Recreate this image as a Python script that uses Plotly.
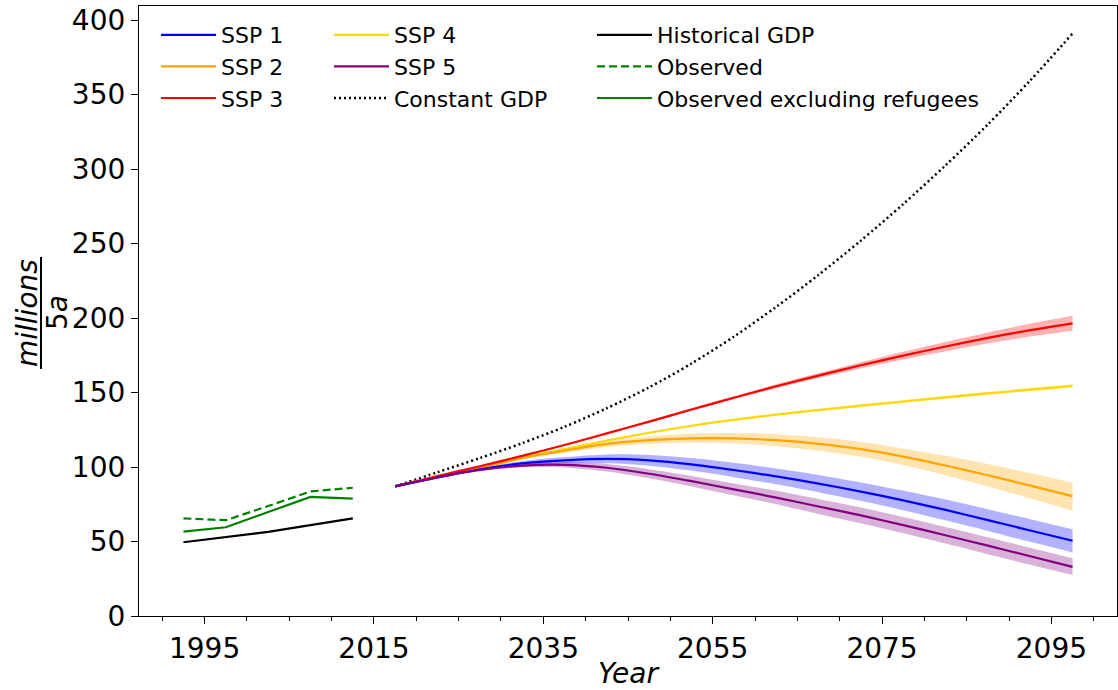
import plotly.graph_objects as go

# ---------------- data ----------------
hist_years = [1992.5, 1997.5, 2002.5, 2007.5, 2012.5]
historical_gdp = [49.5, 53.0, 56.5, 61.0, 65.5]
observed = [65.5, 64.3, 73.8, 83.6, 86.1]
observed_excl_refugees = [56.7, 59.6, 69.8, 79.9, 78.8]

proj_years = [2017.5, 2022.5, 2027.5, 2032.5, 2037.5, 2042.5, 2047.5, 2052.5, 2057.5,
              2062.5, 2067.5, 2072.5, 2077.5, 2082.5, 2087.5, 2092.5, 2097.5]

constant_gdp = [87, 96.5, 106, 116, 127, 139.5, 153.5, 169.5, 187.5,
                207.5, 229, 252, 276.5, 302.5, 330, 359.5, 391]

ssp1 = [87, 93, 98.5, 102.5, 104.5, 105.5, 104.5, 101.8, 98,
        93.7, 88.9, 83.5, 77.6, 71.2, 64.4, 57.4, 50.5]
ssp1_lo = [87, 92.7, 97.7, 101.0, 102.3, 102.5, 100.9, 97.6, 93.2,
           88.4, 83.1, 77.3, 71.0, 64.2, 57.1, 49.8, 42.7]
ssp1_hi = [87, 93.3, 99.3, 104.0, 106.7, 108.5, 108.1, 106.0, 102.8,
           99.0, 94.7, 89.7, 84.2, 78.2, 71.7, 65.0, 58.3]

ssp2 = [87, 93.5, 99.5, 106, 111, 115.5, 118, 119.3, 119.3,
        118, 115.5, 112, 107, 101, 94.5, 87.5, 80.5]
ssp2_lo = [87, 93.2, 98.9, 105.0, 109.5, 113.5, 115.5, 116.3, 115.8,
           114.0, 111.0, 107.0, 101.3, 94.5, 87.0, 79.0, 70.6]
ssp2_hi = [87, 93.8, 100.1, 107.0, 112.5, 117.5, 120.5, 122.3, 122.8,
           122.0, 120.0, 117.0, 112.5, 107.5, 102.0, 96.0, 89.4]

ssp3 = [87, 94, 100.5, 107.5, 114.8, 122.6, 130.5, 138.6, 146.5,
        154.2, 161.4, 168.3, 174.8, 180.9, 186.7, 191.9, 196.5]
ssp3_lo = [87, 94, 100.3, 107.2, 114.4, 122.1, 129.9, 137.8, 145.5,
           152.9, 159.7, 166.2, 172.2, 177.8, 183.0, 187.6, 191.5]
ssp3_hi = [87, 94, 100.7, 107.8, 115.2, 123.1, 131.1, 139.4, 147.5,
           155.5, 163.1, 170.4, 177.4, 184.0, 190.4, 196.2, 201.5]

ssp4 = [87, 93.5, 100, 106.2, 112, 117.8, 123, 127.7, 131.7,
        135.2, 138.3, 141.2, 144, 146.8, 149.4, 152, 154.5]
ssp4_lo = [87, 93.5, 99.9, 106.0, 111.7, 117.4, 122.5, 127.1, 131.0,
           134.4, 137.4, 140.2, 143.0, 145.7, 148.3, 150.8, 153.3]
ssp4_hi = [87, 93.5, 100.1, 106.4, 112.3, 118.2, 123.5, 128.3, 132.4,
           136.0, 139.2, 142.2, 145.0, 147.9, 150.5, 153.2, 155.7]

ssp5 = [87, 93, 98, 101, 101.5, 99.5, 95.5, 90.5, 85,
        79.5, 73.5, 67.5, 61, 54.2, 47.2, 40.1, 33]
ssp5_lo = [87, 92.7, 97.2, 99.8, 99.7, 97.0, 92.5, 87.0, 81.0,
           75.0, 68.5, 62.2, 55.5, 48.6, 41.5, 34.4, 27.5]
ssp5_hi = [87, 93.3, 98.8, 102.2, 103.3, 102.0, 98.5, 94.0, 89.0,
           84.0, 78.5, 72.8, 66.5, 59.8, 52.9, 45.8, 38.7]

x_range = [1987.25, 2102.75]
y_range = [0, 409.5]
x_tick0 = 1995

# ---------------- figure ----------------
FONT = "DejaVu Sans"
SMOOTH = 0.8
fig = go.Figure()

ssp_specs = [
    ("SSP 1", ssp1, ssp1_lo, ssp1_hi, "#0000FF", "rgba(0,0,255,0.3)"),
    ("SSP 2", ssp2, ssp2_lo, ssp2_hi, "#FFA500", "rgba(255,165,0,0.3)"),
    ("SSP 3", ssp3, ssp3_lo, ssp3_hi, "#FF0000", "rgba(255,0,0,0.3)"),
    ("SSP 4", ssp4, ssp4_lo, ssp4_hi, "#FFD700", "rgba(255,215,0,0.3)"),
    ("SSP 5", ssp5, ssp5_lo, ssp5_hi, "#800080", "rgba(128,0,128,0.3)"),
]

# uncertainty bands first
for name, mid, lo, hi, col, fcol in ssp_specs:
    fig.add_trace(go.Scatter(x=proj_years, y=lo, mode="lines",
                             line=dict(width=0, shape="spline", smoothing=SMOOTH),
                             showlegend=False, hoverinfo="skip"))
    fig.add_trace(go.Scatter(x=proj_years, y=hi, mode="lines",
                             line=dict(width=0, shape="spline", smoothing=SMOOTH),
                             fill="tonexty", fillcolor=fcol, showlegend=False,
                             hoverinfo="skip"))

# constant GDP (dotted)
fig.add_trace(go.Scatter(x=proj_years, y=constant_gdp, mode="lines", name="Constant GDP",
                         line=dict(color="black", width=2.5, dash="2px,3px",
                                   shape="spline", smoothing=SMOOTH),
                         legend="legend2", legendrank=3))

legend_of = {"SSP 1": "legend", "SSP 2": "legend", "SSP 3": "legend",
             "SSP 4": "legend2", "SSP 5": "legend2"}
rank_of = {"SSP 1": 1, "SSP 2": 2, "SSP 3": 3, "SSP 4": 1, "SSP 5": 2}
order = ["SSP 4", "SSP 2", "SSP 3", "SSP 1", "SSP 5"]
spec_by_name = {s[0]: s for s in ssp_specs}
for nm in order:
    name, mid, lo, hi, col, fcol = spec_by_name[nm]
    fig.add_trace(go.Scatter(x=proj_years, y=mid, mode="lines", name=name,
                             line=dict(color=col, width=2.2, shape="spline",
                                       smoothing=SMOOTH),
                             legend=legend_of[name], legendrank=rank_of[name]))

fig.add_trace(go.Scatter(x=hist_years, y=historical_gdp, mode="lines", name="Historical GDP",
                         line=dict(color="black", width=2.2), legend="legend3",
                         legendrank=1))
fig.add_trace(go.Scatter(x=hist_years, y=observed, mode="lines", name="Observed",
                         line=dict(color="#008000", width=2.2, dash="8px,4px"),
                         legend="legend3", legendrank=2))
fig.add_trace(go.Scatter(x=hist_years, y=observed_excl_refugees, mode="lines",
                         name="Observed excluding refugees",
                         line=dict(color="#008000", width=2.2), legend="legend3",
                         legendrank=3))

L, R, T, B = 139, 1, 6, 74
W, H = 1118, 690
pw, ph = W - L - R, H - T - B


def px_x(px):
    return (px - L) / pw


def px_y(py):
    return (H - B - py) / ph


leg_common = dict(bgcolor="rgba(0,0,0,0)", borderwidth=0,
                  font=dict(family=FONT, size=22, color="black"),
                  xanchor="left", yanchor="top", orientation="v", itemwidth=55,
                  tracegroupgap=0, traceorder="normal")

fig.update_layout(
    width=W, height=H,
    margin=dict(l=L, r=R, t=T, b=B),
    paper_bgcolor="white", plot_bgcolor="white",
    font=dict(family=FONT, size=28, color="black"),
    showlegend=True,
    legend=dict(x=px_x(156), y=px_y(14), **leg_common),
    legend2=dict(x=px_x(329), y=px_y(14), **leg_common),
    legend3=dict(x=px_x(592), y=px_y(14), **leg_common),
    xaxis=dict(range=x_range, tick0=x_tick0, dtick=20, ticks="outside", ticklen=7,
               tickwidth=1.2, tickcolor="black", showline=True, linecolor="black",
               linewidth=1.2, mirror=True, showgrid=False, zeroline=False,
               tickfont=dict(family=FONT, size=28, color="black"),
               minor=dict(tick0=x_tick0, dtick=5, ticks="outside", ticklen=4,
                          tickwidth=1, tickcolor="black", showgrid=False),
               title=dict(text="<i>Year</i>", font=dict(family=FONT, size=28, color="black"),
                          standoff=0)),
    yaxis=dict(range=y_range, dtick=50, ticks="outside", ticklen=7, tickwidth=1.2,
               tickcolor="black", showline=True, linecolor="black", linewidth=1.2,
               mirror=True, showgrid=False, zeroline=False,
               tickfont=dict(family=FONT, size=28, color="black")),
)

# y-axis label as a fraction: millions / 5a
yc = px_y(313)
fig.add_annotation(text="<i>millions</i>", xref="paper", yref="paper",
                   x=px_x(27), y=yc, textangle=-90, showarrow=False,
                   xanchor="center", yanchor="middle",
                   font=dict(family=FONT, size=28, color="black"))
fig.add_annotation(text="5<i>a</i>", xref="paper", yref="paper",
                   x=px_x(57), y=yc, textangle=-90, showarrow=False,
                   xanchor="center", yanchor="middle",
                   font=dict(family=FONT, size=28, color="black"))
fig.add_shape(type="line", xref="paper", yref="paper",
              x0=px_x(41), x1=px_x(41), y0=px_y(257), y1=px_y(369),
              line=dict(color="black", width=2))

fig.write_html("out.html", config={"displayModeBar": False},
               post_script="document.body.style.margin='0px';")
